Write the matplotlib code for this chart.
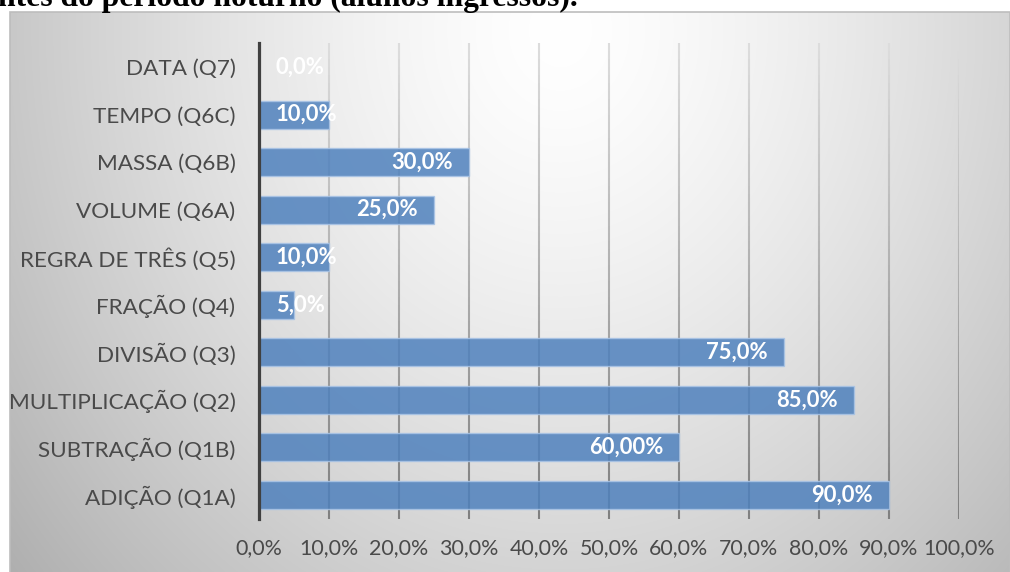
import numpy as np
import matplotlib
matplotlib.use("Agg")
import matplotlib.pyplot as plt
from matplotlib.collections import LineCollection
from matplotlib.patches import Rectangle

# dados (de baixo para cima)
categorias = ["ADIÇÃO (Q1A)", "SUBTRAÇÃO (Q1B)", "MULTIPLICAÇÃO (Q2)", "DIVISÃO (Q3)",
              "FRAÇÃO (Q4)", "REGRA DE TRÊS (Q5)", "VOLUME (Q6A)", "MASSA (Q6B)",
              "TEMPO (Q6C)", "DATA (Q7)"]
percentuais = [90, 60, 85, 75, 5, 10, 25, 30, 10, 0]
rotulos = ["90,0%", "60,00%", "85,0%", "75,0%", "5,0%", "10,0%", "25,0%", "30,0%", "10,0%", "0,0%"]
ticks_x = [0, 10, 20, 30, 40, 50, 60, 70, 80, 90, 100]
ticks_x_rotulos = ["0,0%", "10,0%", "20,0%", "30,0%", "40,0%", "50,0%",
                   "60,0%", "70,0%", "80,0%", "90,0%", "100,0%"]
titulo = "ntes do período noturno (alunos ingressos)."

W, H = 1010, 572
fonte = ["Lato", "DejaVu Sans"]
cinza_texto = "#4a4a4a"

fig = plt.figure(figsize=(W / 100, H / 100), dpi=100)
fig.patch.set_facecolor("white")

# fundo com gradiente radial (área do gráfico)
bx0, by0, bw, bh = 10, 12, 1000, 560
bg = fig.add_axes([bx0 / W, 0, bw / W, bh / H], zorder=0)
xx, yy = np.meshgrid(np.arange(bw) + bx0, np.arange(bh) + by0)
r = np.sqrt(((xx - 560) / 600.0) ** 2 + ((yy - 30) / 700.0) ** 2)
tom = 255 - 62 * np.clip(r, 0, 1.3) ** 1.4
img = np.dstack([tom, tom, tom]) / 255.0
bg.imshow(np.clip(img, 0, 1), aspect="auto", extent=[0, 1, 0, 1], origin="upper")
bg.axis("off")
fig.patches.append(Rectangle((bx0 / W, -0.01), bw / W, bh / H + 0.01, transform=fig.transFigure,
                             fill=False, edgecolor="#bdbdbd", linewidth=1.2, zorder=1))

# título cortado no topo
fig.text(-2 / W, 1 - 6 / H, titulo, family="Liberation Serif", weight="bold",
         fontsize=22.8, color="black", va="baseline", ha="left", zorder=5)

# eixo principal
ax_top, ax_bot = 43.2, 518.8
ax = fig.add_axes([259 / W, 1 - ax_bot / H, 700 / W, (ax_bot - ax_top) / H], zorder=2)
ax.patch.set_alpha(0)

y = np.arange(len(categorias))
ax.set_xlim(0, 100)
ax.set_ylim(-0.5, len(categorias) - 0.5)

# linhas de grade com leve degradê (mais escuras embaixo)
n_seg = 60
ys = np.linspace(0, 1, n_seg + 1)
cores = [(0.5 + 0.37 * t, 0.5 + 0.37 * t, 0.5 + 0.37 * t) for t in ys[:-1]]
for xt in ticks_x[1:]:
    segs = [[(xt, ys[i]), (xt, ys[i + 1])] for i in range(n_seg)]
    lc = LineCollection(segs, colors=cores, linewidths=1.5,
                        transform=ax.get_xaxis_transform(), zorder=1)
    ax.add_collection(lc)

ax.barh(y, percentuais, height=0.59, color="#4f81bd", alpha=0.85,
        edgecolor="#a9c4e6", linewidth=1.0, zorder=2)

for yi, v, txt in zip(y, percentuais, rotulos):
    if v <= 10:
        ax.annotate(txt, (0, yi), xytext=(12.2, 0), textcoords="offset points",
                    ha="left", va="center", color="white", weight="bold",
                    family=fonte, fontsize=15.8, zorder=3)
    else:
        ax.annotate(txt, (v, yi), xytext=(-11.5, 0), textcoords="offset points",
                    ha="right", va="center", color="white", weight="bold",
                    family=fonte, fontsize=15.8, zorder=3)

for s in ["top", "right", "bottom"]:
    ax.spines[s].set_visible(False)
ax.spines["left"].set_color("#404040")
ax.spines["left"].set_linewidth(2.3)
ax.spines["left"].set_zorder(4)

ax.set_yticks(y)
ax.set_yticklabels(categorias)
ax.set_xticks(ticks_x)
ax.set_xticklabels(ticks_x_rotulos)
ax.tick_params(axis="y", length=0, pad=17, labelcolor=cinza_texto, labelsize=16.2)
ax.tick_params(axis="x", length=0, pad=14, labelcolor=cinza_texto, labelsize=15.4)
for lab in ax.get_xticklabels() + ax.get_yticklabels():
    lab.set_family(fonte)

fig.savefig("out.png", dpi=100)
